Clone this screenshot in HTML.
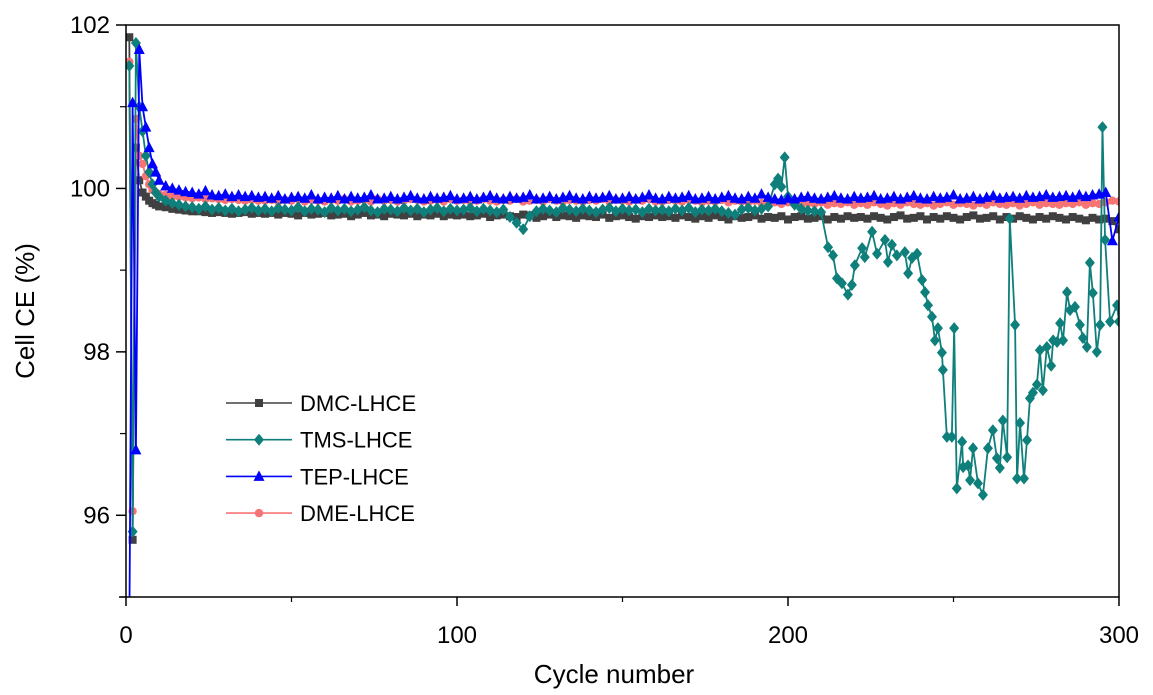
<!DOCTYPE html>
<html><head><meta charset="utf-8"><style>
body{margin:0;background:#fff;}
svg{display:block;font-family:"Liberation Sans",Arial,sans-serif;}
</style></head><body>
<svg id="chart" width="1153" height="695" viewBox="0 0 1153 695" xmlns="http://www.w3.org/2000/svg">
<defs><clipPath id="pc"><rect x="126" y="25" width="993" height="572"/></clipPath></defs>
<g id="series" clip-path="url(#pc)"></g>
<rect x="126" y="25" width="993" height="572" fill="none" stroke="#000" stroke-width="1.5"/>
<line x1="119" x2="126" y1="597" y2="597" stroke="#000" stroke-width="1.5"/>
<g id="axes"></g>
<text x="614" y="683" font-size="26" text-anchor="middle">Cycle number</text>
<text transform="translate(34,311) rotate(-90)" font-size="26" text-anchor="middle">Cell CE (%)</text>
<g id="legend"></g>
</svg>
<script>
const xTicks=[0,100,200,300];
const xMinor=[50,150,250];
const yTicks=[96,98,100,102];
const yMinor=[95,97,99,101];
const seriesNames=["DMC-LHCE","TMS-LHCE","TEP-LHCE","DME-LHCE"];
const cycles=[1,2,3,4,5,6,7,8,9,10];
for(let c=12;c<=300;c+=2)cycles.push(c);
const dmcValues=[101.85,95.7,100.5,100.1,99.95,99.9,99.85,99.82,99.8,99.78,
99.77,99.75,99.74,99.73,99.72,99.72,99.71,99.70,99.71,99.70,99.69,99.70,99.71,99.69,99.70,
99.69,99.70,99.68,99.70,99.69,99.67,99.70,99.68,99.69,99.70,99.67,99.68,99.69,99.66,99.68,99.70,99.67,99.68,99.66,99.69,99.68,99.67,99.69,99.66,99.68,99.67,99.69,99.66,99.68,99.67,
99.68,99.66,99.67,99.69,99.65,99.67,99.68,99.66,99.65,99.68,99.67,99.64,99.66,99.68,99.65,99.67,99.66,99.64,99.67,99.66,99.65,99.68,99.64,99.66,99.67,99.65,99.63,99.66,99.65,99.67,
99.65,99.66,99.64,99.67,99.65,99.63,99.66,99.64,99.67,99.65,99.62,99.66,99.64,99.65,99.67,99.63,99.65,99.64,99.66,99.62,99.65,99.66,99.63,99.64,99.66,99.62,99.65,99.63,99.66,99.64,
99.65,99.63,99.66,99.64,99.62,99.65,99.67,99.63,99.64,99.66,99.62,99.65,99.63,99.66,99.64,99.62,99.65,99.67,99.63,99.64,99.66,99.62,99.65,99.63,99.66,99.64,99.62,99.65,99.63,99.66,
99.64,99.62,99.65,99.63,99.61,99.64,99.62,99.63,99.6,99.5];
const tepValues=[94.5,101.05,96.8,101.7,101.0,100.75,100.5,100.3,100.2,100.1,
100.03,100.0,99.98,99.96,99.95,99.93,99.97,99.92,99.91,99.93,99.9,99.92,99.9,99.91,99.89,
99.9,99.88,99.91,99.87,99.89,99.9,99.88,99.92,99.87,99.89,99.88,99.91,99.87,99.9,99.88,99.89,99.92,99.87,99.88,99.9,99.87,99.89,99.91,99.88,99.87,99.9,99.88,99.89,99.91,99.87,
99.88,99.9,99.87,99.89,99.91,99.88,99.87,99.9,99.88,99.89,99.92,99.87,99.88,99.9,99.87,99.89,99.91,99.88,99.87,99.9,99.88,99.89,99.91,99.87,99.88,99.9,99.87,99.89,99.92,99.88,
99.87,99.9,99.88,99.89,99.91,99.87,99.88,99.9,99.87,99.89,99.91,99.88,99.87,99.9,99.88,99.93,99.89,99.87,99.86,99.88,99.87,99.89,99.9,99.88,99.87,99.89,99.91,99.88,99.87,99.9,
99.88,99.89,99.91,99.87,99.88,99.9,99.87,99.89,99.91,99.88,99.87,99.9,99.88,99.89,99.92,99.87,99.88,99.9,99.87,99.89,99.91,99.88,99.89,99.9,99.88,99.91,99.89,99.9,99.92,99.89,
99.9,99.91,99.89,99.92,99.9,99.92,99.93,99.95,99.36,99.65];
const dmeValues=[101.55,96.05,100.85,100.4,100.3,100.15,100.05,99.98,99.95,99.93,
99.92,99.9,99.9,99.89,99.88,99.89,99.87,99.88,99.87,99.86,99.87,99.86,99.85,99.86,99.85,
99.85,99.86,99.84,99.86,99.85,99.87,99.84,99.86,99.85,99.84,99.86,99.85,99.87,99.84,99.85,99.86,99.84,99.87,99.85,99.86,99.84,99.85,99.87,99.86,99.84,99.85,99.86,99.84,99.87,99.85,
99.86,99.84,99.85,99.87,99.85,99.84,99.86,99.85,99.87,99.84,99.85,99.86,99.84,99.87,99.85,99.84,99.86,99.85,99.84,99.86,99.85,99.87,99.84,99.86,99.85,99.84,99.86,99.85,99.87,99.84,
99.84,99.86,99.85,99.84,99.86,99.85,99.83,99.85,99.84,99.86,99.83,99.85,99.84,99.83,99.85,99.82,99.84,99.83,99.81,99.83,99.82,99.8,99.82,99.81,99.83,99.8,99.82,99.81,99.83,99.8,
99.82,99.8,99.83,99.81,99.79,99.82,99.8,99.83,99.81,99.8,99.82,99.79,99.81,99.83,99.8,99.82,99.81,99.79,99.82,99.8,99.83,99.81,99.8,99.82,99.79,99.81,99.83,99.8,99.82,99.81,
99.8,99.82,99.81,99.83,99.8,99.82,99.81,99.83,99.85,99.84];
const tmsHeadValues=[101.5,95.8,101.78,101.0,100.7,100.4,100.2,100.05,99.95,99.9,
99.85,99.82,99.8,99.78,99.77,99.75,99.78,99.74,99.76,99.73,99.75,99.72,99.74,99.76,99.73,
99.75,99.72,99.76,99.74,99.73,99.77,99.72,99.75,99.74,99.71,99.76,99.73,99.75,99.72,99.74,99.77,99.73,99.71,99.75,99.74,99.72,99.76,99.73,99.75,99.71,99.74,99.76,99.72,99.75,99.73,
99.74,99.76,99.72,99.75,99.73,99.71,99.74,99.65,99.58,99.5,99.66,99.72,99.75,99.73,99.71,99.76,99.74,99.72,99.75,99.73,99.71,99.74,99.76,99.72,99.75,99.73,99.74,99.71,99.75,99.73,
99.74,99.72,99.75,99.73,99.76,99.71,99.74,99.73,99.75,99.72,99.7,99.68,99.74,99.76,99.73,99.75,99.78];
const tmsTailCycles=[196,197,198,199,200,202,204,206,208,210,212.1,213.6,214.8,216.3,218.1,219.3,220.2,222.4,223.2,225.4,226.9,229.3,230.2,231.4,232.9,235.3,236.3,237.5,239,240.5,241.4,242.3,243.5,244.4,245.3,246.5,246.8,248,249.5,250.2,251,252.6,252.9,254.4,255,255.9,257.4,258.9,260.4,261.9,263.1,264,264.9,266.2,267,268.6,269.2,270.1,271.3,272.2,273.1,274,275.2,276.1,277,278.2,279.5,280.1,281.3,282.2,283.1,284.3,285.2,286.7,288.2,289.1,290.3,291.2,292.1,293.3,294.3,295,295.8,297.3,299.4,300];
const tmsTailValues=[100.05,100.12,100.02,100.38,99.9,99.8,99.75,99.73,99.72,99.71,99.28,99.18,98.9,98.84,98.7,98.82,99.06,99.27,99.16,99.47,99.2,99.37,99.1,99.31,99.18,99.22,98.96,99.15,99.2,98.88,98.73,98.57,98.43,98.14,98.29,97.99,97.78,96.96,96.96,98.29,96.33,96.9,96.59,96.61,96.43,96.82,96.39,96.25,96.82,97.04,96.7,96.58,97.16,96.71,99.63,98.33,96.45,97.13,96.45,96.92,97.43,97.5,97.6,98.02,97.53,98.06,97.83,98.14,98.12,98.35,98.14,98.73,98.51,98.55,98.33,98.17,98.06,99.09,98.72,98.0,98.33,100.75,99.37,98.37,98.57,98.37];

const X=v=>126+v*(993/300);
const Y=v=>25+(102-v)*(572/7);
const NS="http://www.w3.org/2000/svg";
function mk(tag,attrs,parent){const e=document.createElementNS(NS,tag);for(const k in attrs)e.setAttribute(k,attrs[k]);parent.appendChild(e);return e;}
const axes=document.getElementById('axes');
xTicks.forEach(t=>{
 const l=mk('line',{x1:X(t),x2:X(t),y1:597,y2:606,stroke:'#000','stroke-width':1.5},axes);
 
 
 const tx=mk('text',{x:X(t),y:643,'font-size':24,'text-anchor':'middle'},axes);tx.textContent=t;
 
 
});
xMinor.forEach(t=>{
 const l=mk('line',{x1:X(t),x2:X(t),y1:597,y2:602,stroke:'#000','stroke-width':1.2},axes);
 
 
});
yTicks.forEach(t=>{
 const l=mk('line',{x1:116,x2:126,y1:Y(t),y2:Y(t),stroke:'#000','stroke-width':1.5},axes);
 
 
 const tx=mk('text',{x:110,y:Y(t)+8,'font-size':24,'text-anchor':'end'},axes);tx.textContent=t;
 
 
});
yMinor.forEach(t=>{
 const l=mk('line',{x1:120,x2:126,y1:Y(t),y2:Y(t),stroke:'#000','stroke-width':1.2},axes);
 
 
});
function marker(type,cx,cy,color,parent){
 let e;
 if(type==='sq')e=mk('rect',{x:cx-4,y:cy-4,width:8,height:8,fill:color},parent);
 else if(type==='ci')e=mk('circle',{cx:cx,cy:cy,r:4.2,fill:color},parent);
 else if(type==='di')e=mk('polygon',{points:`${cx},${cy-6} ${cx+5},${cy} ${cx},${cy+6} ${cx-5},${cy}`,fill:color},parent);
 else e=mk('polygon',{points:`${cx},${cy-6} ${cx+5.5},${cy+4.5} ${cx-5.5},${cy+4.5}`,fill:color},parent);
 return e;
}
const sg=document.getElementById('series');
function drawSeries(name,xs,ys,color,type){
 const g=mk('g',{},sg);
 
 
 const p=mk('polyline',{points:xs.map((c,i)=>X(c)+','+Y(ys[i])).join(' '),fill:'none',stroke:color,'stroke-width':1.8},g);
 
 
 xs.forEach((c,i)=>{const m=marker(type,X(c),Y(ys[i]),color,g);
  
  });
}
const colors=['#404040','#0e7f7a','#0000ff','#f87474'];
const types=['sq','di','tr','ci'];
const tmsCycles=cycles.slice(0,tmsHeadValues.length).concat(tmsTailCycles);
const tmsValues=tmsHeadValues.concat(tmsTailValues);
drawSeries(seriesNames[0],cycles,dmcValues,colors[0],types[0]);
drawSeries(seriesNames[3],cycles,dmeValues,colors[3],types[3]);
drawSeries(seriesNames[1],tmsCycles,tmsValues,colors[1],types[1]);
drawSeries(seriesNames[2],cycles,tepValues,colors[2],types[2]);
const lg=document.getElementById('legend');


seriesNames.forEach((n,i)=>{
 const y=403+i*36.7;
 const g=mk('g',{},lg);
 
 
 mk('line',{x1:226,x2:292,y1:y,y2:y,stroke:colors[i],'stroke-width':1.6},g);
 marker(types[i],259,y,colors[i],g);
 const t=mk('text',{x:300,y:y+8,'font-size':22},g);t.textContent=n;
});
</script>
</body></html>
